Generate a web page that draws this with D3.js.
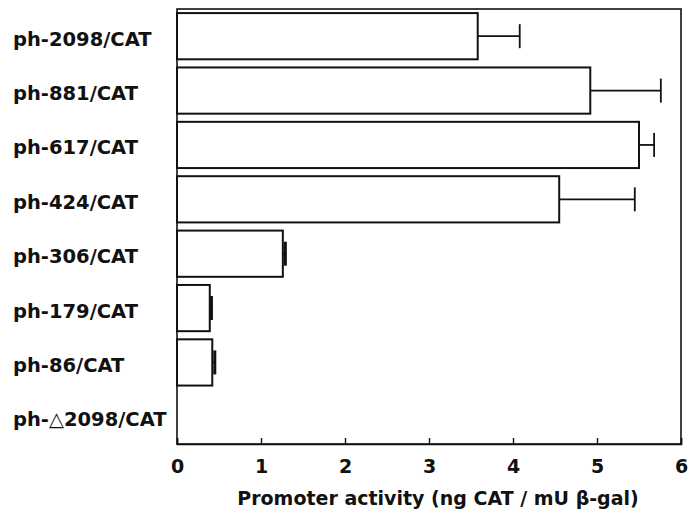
<!DOCTYPE html>
<html><head><meta charset="utf-8">
<script src="https://cdn.jsdelivr.net/npm/d3@7"></script>
<style>html,body{margin:0;padding:0;background:#fff}</style>
</head><body>
<svg id="c" width="690" height="518"></svg>
<script>
const categories = ["ph-2098/CAT","ph-881/CAT","ph-617/CAT","ph-424/CAT","ph-306/CAT","ph-179/CAT","ph-86/CAT","ph-\u25B32098/CAT"];
const values = [3.58, 4.92, 5.50, 4.55, 1.26, 0.39, 0.42, 0];
const errors = [0.50, 0.84, 0.18, 0.90, 0.03, 0.02, 0.03, 0];
const xTicks = [0,1,2,3,4,5,6];
const xTitle = "Promoter activity (ng CAT / mU \u03B2-gal)";

const svg = d3.select("#c");
const L = 177, R = 681, T = 9, B = 444;
const font = "'DejaVu Sans', sans-serif";
const x = d3.scaleLinear().domain([0,6]).range([L,R]);
const y = d3.scaleBand().domain(categories).range([T,B]).paddingInner(0.15).paddingOuter(0.075);

// frame
svg.append("rect").attr("x",L).attr("y",T).attr("width",R-L).attr("height",B-T)
  .attr("fill","none").attr("stroke","#111").attr("stroke-width",1.6);

// x axis
const ax = svg.append("g").attr("transform",`translate(0,${B})`)
  .call(d3.axisBottom(x).tickValues(xTicks).tickSize(-6).tickPadding(16).tickFormat(d3.format("d")));
ax.select(".domain").attr("stroke","#111").attr("stroke-width",1.6);
ax.selectAll(".tick line").attr("stroke","#111").attr("stroke-width",1.4);
ax.selectAll(".tick text").attr("font-family",font).attr("font-weight","bold").attr("font-size",19).attr("fill","#111");

// bars
const g = svg.append("g");
g.selectAll("rect.bar").data(categories.filter((c,i)=>values[i]>0)).join("rect")
  .attr("class","bar")
  .attr("x",x(0)).attr("y",d=>y(d))
  .attr("width",d=>x(values[categories.indexOf(d)])-x(0))
  .attr("height",y.bandwidth())
  .attr("fill","#fff").attr("stroke","#111").attr("stroke-width",2);

// error bars
categories.forEach((c,i)=>{
  if(values[i]<=0) return;
  const cy = y(c)+y.bandwidth()/2;
  const x1 = x(values[i]), x2 = x(values[i]+errors[i]);
  g.append("line").attr("x1",x1).attr("x2",x2).attr("y1",cy).attr("y2",cy)
    .attr("stroke","#111").attr("stroke-width",1.8);
  g.append("line").attr("x1",x2).attr("x2",x2).attr("y1",cy-12).attr("y2",cy+12)
    .attr("stroke","#111").attr("stroke-width",errors[i]<0.1?3:1.8);
});

// category labels
svg.append("g").selectAll("text").data(categories).join("text")
  .attr("x",13).attr("y",d=>y(d)+y.bandwidth()/2+3)
  .attr("dominant-baseline","central")
  .attr("font-family",font).attr("font-weight","bold").attr("font-size",19.5).attr("fill","#111")
  .text(d=>d);

// x title
svg.append("text").attr("x",438).attr("y",505).attr("text-anchor","middle")
  .attr("font-family",font).attr("font-weight","bold").attr("font-size",19).attr("fill","#111")
  .text(xTitle);
</script>
</body></html>
